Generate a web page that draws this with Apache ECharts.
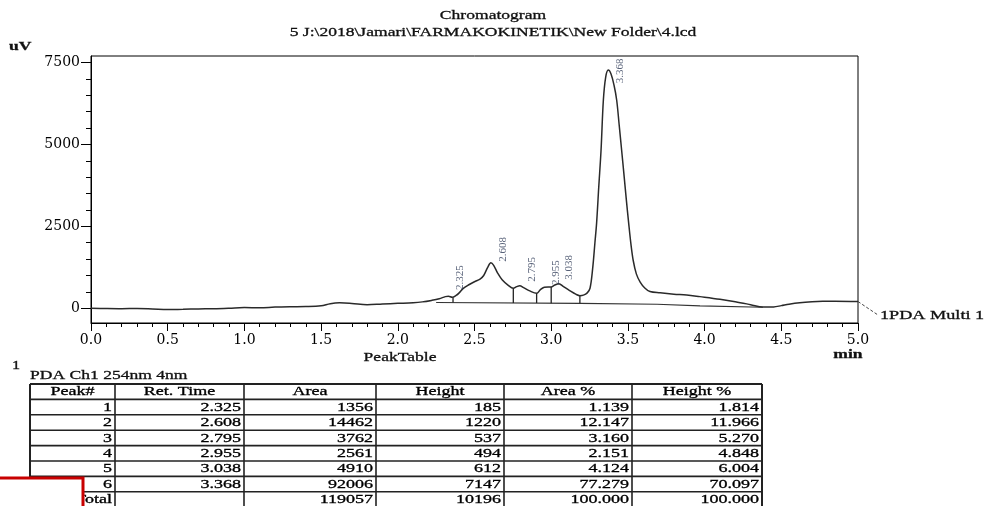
<!DOCTYPE html>
<html><head><meta charset="utf-8">
<script src="https://cdn.jsdelivr.net/npm/echarts@6/dist/echarts.min.js"></script>
<style>html,body{margin:0;padding:0;background:#fff}#c{width:987px;height:506px}</style>
</head><body><div id="c"></div>
<script>
// ---- chromatogram trace (min, uV) ----
const timeMin = [0.00,0.10,0.20,0.30,0.40,0.50,0.60,0.70,0.80,0.90,1.00,1.10,1.20,1.30,1.40,1.50,1.56,1.62,1.70,1.80,1.90,2.00,2.10,2.16,2.22,2.27,2.31,2.33,2.355,2.38,2.40,2.425,2.46,2.50,2.536,2.56,2.585,2.607,2.625,2.65,2.68,2.72,2.753,2.775,2.795,2.82,2.86,2.905,2.93,2.955,2.98,3.00,3.02,3.05,3.08,3.12,3.16,3.187,3.21,3.235,3.253,3.27,3.285,3.296,3.31,3.325,3.34,3.355,3.372,3.39,3.41,3.427,3.443,3.459,3.475,3.49,3.505,3.52,3.535,3.555,3.58,3.61,3.644,3.71,3.80,3.883,3.97,4.10,4.20,4.30,4.38,4.45,4.50,4.55,4.62,4.70,4.77,4.85,5.00];
const signalUV = [0,-10,-15,-5,-20,-40,-30,-20,-15,0,20,15,35,45,50,75,140,165,145,105,130,150,170,195,240,290,355,370,335,390,470,600,710,810,890,1000,1240,1390,1310,1080,870,700,610,660,690,630,530,457,570,640,650,650,700,750,660,540,430,385,400,470,610,1200,2000,2600,3700,4830,6350,7050,7270,7150,6800,6350,5600,4830,4050,3300,2600,1950,1450,1050,800,620,510,470,430,405,355,275,200,110,35,40,80,125,170,200,213,215,205];
// integration baseline
const baselineTime = [2.25, 3.187, 3.69, 3.97, 4.38];
const baselineUV = [175, 150, 122, 70, 30];
// peak separation drop lines
const dropTime = [2.36, 2.753, 2.905, 3.0, 3.187];
const dropTopUV = [330, 610, 457, 650, 385];
const dropBaseUV = [172, 163, 160, 155, 150];
// peak table
const peakNo = [1, 2, 3, 4, 5, 6];
const retTime = ['2.325', '2.608', '2.795', '2.955', '3.038', '3.368'];
const labelUV = [558, 1421, 812, 708, 869, 6872];
const area = [1356, 14462, 3762, 2561, 4910, 92006];
const heightUV = [185, 1220, 537, 494, 612, 7147];
const areaPct = ['1.139', '12.147', '3.160', '2.151', '4.124', '77.279'];
const heightPct = ['1.814', '11.966', '5.270', '4.848', '6.004', '70.097'];
const totalRow = ['Total', '', '119057', '10196', '100.000', '100.000'];
const tableHeaders = ['Peak#', 'Ret. Time', 'Area', 'Height', 'Area %', 'Height %'];
// axes
const yMajorTicks = [0, 2500, 5000, 7500];
const yAllTicks = [0, 500, 1000, 1500, 2000, 2500, 3000, 3500, 4000, 4500, 5000, 5500, 6000, 6500, 7000, 7500];
const yMin = -450, yMax = 7700;
const xTickLabels = ['0.0','0.5','1.0','1.5','2.0','2.5','3.0','3.5','4.0','4.5','5.0'];

const SERIF = '"Liberation Serif", "Times New Roman", serif';
const AXISFONT = '"DejaVu Serif", serif';
const chart = echarts.init(document.getElementById('c'));

const curve = timeMin.map((t, i) => [t, signalUV[i]]);
const baseline = baselineTime.map((t, i) => [t, baselineUV[i]]);
const dropSeries = dropTime.map((t, i) => ({
  type: 'line', data: [[t, dropBaseUV[i]], [t, dropTopUV[i]]], symbol: 'none', silent: true, z: 3,
  lineStyle: { color: '#222', width: 1.3 }
}));

function txt(x, y, s, o) {
  o = o || {};
  return { type: 'text', x: x, y: y, scaleX: o.sx || 1.35, z: o.z || 10, silent: true,
    style: { text: s, font: (o.weight || 'normal') + ' ' + (o.size || 13) + 'px ' + SERIF,
      fill: o.color || '#111', stroke: o.color || '#111', lineWidth: 0.3,
      align: o.align || 'left', verticalAlign: 'middle' } };
}

const g = [];
g.push(txt(493, 16, 'Chromatogram', { align: 'center' }));
g.push(txt(493, 33, '5 J:\\2018\\Jamari\\FARMAKOKINETIK\\New Folder\\4.lcd', { align: 'center' }));
g.push(txt(9, 47, 'uV', { weight: 'bold' }));
g.push(txt(848, 355, 'min', { align: 'center', weight: 'bold' }));
g.push(txt(400, 358, 'PeakTable', { align: 'center' }));
g.push(txt(880, 316, '1PDA Multi 1', { size: 13, sx: 1.4 }));
g.push(txt(12, 366, '1', { size: 12 }));
g.push(txt(30, 376, 'PDA Ch1 254nm 4nm', { size: 13 }));

// table
const colX = [30, 115, 244, 376, 504, 632, 762];
const tableTop = 384, rowH = 15.4;
const rows = [tableHeaders].concat(peakNo.map((n, i) => [String(n), retTime[i], String(area[i]), String(heightUV[i]), areaPct[i], heightPct[i]])).concat([totalRow]);
const tableBottom = tableTop + rows.length * rowH;
for (let r = 0; r <= rows.length; r++) {
  const y = tableTop + r * rowH;
  g.push({ type: 'line', silent: true, z: 9, shape: { x1: colX[0], y1: y, x2: colX[6], y2: y }, style: { stroke: '#222', lineWidth: r === 0 ? 2 : 1.6 } });
}
for (let c = 0; c < colX.length; c++) {
  g.push({ type: 'line', silent: true, z: 9, shape: { x1: colX[c], y1: tableTop, x2: colX[c], y2: tableBottom }, style: { stroke: '#222', lineWidth: (c === 0 || c === 6) ? 2 : 1.6 } });
}
rows.forEach((row, r) => {
  const yc = tableTop + r * rowH + rowH / 2 + 0.5;
  row.forEach((s, c) => {
    if (!s) return;
    if (r === 0) g.push(txt((colX[c] + colX[c + 1]) / 2, yc, s, { align: 'center', size: 12, sx: 1.5, color: '#000' }));
    else g.push(txt(colX[c + 1] - 3, yc, s, { align: 'right', size: 12, sx: 1.5, color: '#000' }));
  });
});
// red annotation box over bottom-left corner
g.push({ type: 'rect', silent: true, z: 20, shape: { x: -4, y: 478, width: 87, height: 40 }, style: { fill: '#fff', stroke: '#c80000', lineWidth: 3 } });

const gridBox = { left: 91, right: 129, top: 56, bottom: 183 };
const option = {
  animation: false,
  grid: [
    Object.assign({ show: true, borderColor: '#000', borderWidth: 1, backgroundColor: 'transparent' }, gridBox),
    Object.assign({ show: false }, gridBox)
  ],
  xAxis: [{
    type: 'value', gridIndex: 0, min: 0, max: 5, interval: 0.5,
    axisLine: { onZero: false, lineStyle: { color: '#000', width: 1 } },
    axisTick: { length: 8, lineStyle: { color: '#000' } },
    minorTick: { show: true, splitNumber: 5, length: 4, lineStyle: { color: '#000' } },
    axisLabel: { formatter: (v) => xTickLabels[Math.round(v * 2)] || '', color: '#000', fontFamily: AXISFONT, fontSize: 14, margin: 10 },
    splitLine: { show: false }, minorSplitLine: { show: false }
  }, {
    type: 'value', gridIndex: 1, min: 0, max: 5, show: false
  }],
  yAxis: [
    { type: 'value', gridIndex: 0, min: yMin, max: yMax, position: 'left',
      axisLine: { show: true, onZero: false, lineStyle: { color: '#000', width: 1 } },
      axisTick: { show: true, customValues: yAllTicks, length: 5, lineStyle: { color: '#000' } },
      axisLabel: { customValues: yMajorTicks, formatter: (v) => String(v), color: '#000', fontFamily: AXISFONT, fontSize: 14, margin: 11 },
      splitLine: { show: false } },
    { type: 'value', gridIndex: 1, min: yMin, max: yMax, position: 'left',
      axisLine: { show: false },
      axisTick: { show: true, customValues: yMajorTicks, length: 10, lineStyle: { color: '#000' } },
      axisLabel: { show: false }, splitLine: { show: false } }
  ],
  series: [
    { type: 'line', data: curve, symbol: 'none', smooth: 0.35, silent: true, z: 4,
      lineStyle: { color: '#2a2a2a', width: 1.5 } },
    { type: 'line', data: baseline, symbol: 'none', silent: true, z: 3,
      lineStyle: { color: '#333', width: 1.2 } }
  ].concat(dropSeries).concat([
    { type: 'scatter', data: retTime.map((r, i) => [parseFloat(r), labelUV[i]]), symbolSize: 1, silent: true, z: 5,
      itemStyle: { color: 'rgba(0,0,0,0)' },
      label: { show: true, formatter: (p) => retTime[p.dataIndex], rotate: 90, align: 'left', verticalAlign: 'middle',
        position: 'inside', offset: [0, 12], fontFamily: SERIF, fontSize: 11, color: '#2d3a56' } }
  ]),
  graphic: { elements: g }
};
chart.setOption(option);
// dashed leader from the trace end to the channel name
const endPt = chart.convertToPixel({ gridIndex: 0 }, curve[curve.length - 1]);
g.push({ type: 'line', silent: true, z: 10, shape: { x1: endPt[0], y1: endPt[1], x2: 878, y2: 315 }, style: { stroke: '#444', lineWidth: 1, lineDash: [3, 2] } });
chart.setOption({ graphic: { elements: g } }, { replaceMerge: ['graphic'] });
</script></body></html>
